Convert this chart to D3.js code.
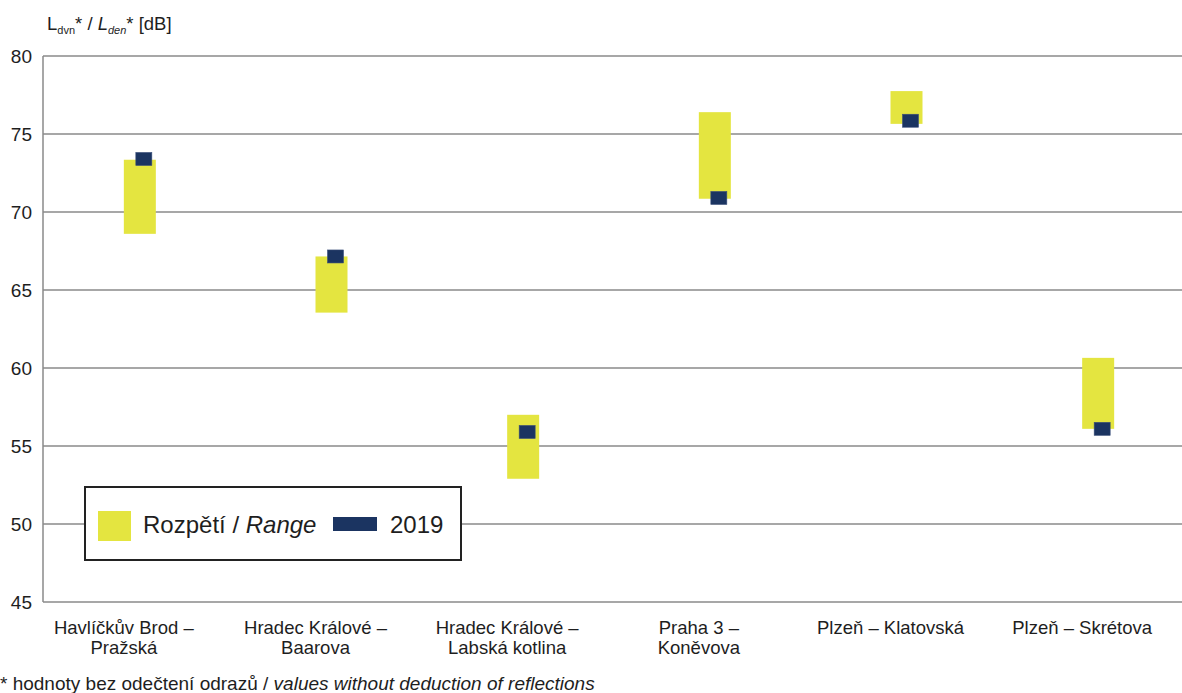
<!DOCTYPE html>
<html><head><meta charset="utf-8">
<script src="https://cdn.jsdelivr.net/npm/d3@7"></script>
<style>body{margin:0;background:#fff}svg{display:block;font-family:Arial,"Liberation Sans",sans-serif}</style>
</head><body><svg id="c" width="1182" height="693"></svg>
<script>
const categories = [["Havlíčkův Brod –","Pražská"],["Hradec Králové –","Baarova"],["Hradec Králové –","Labská kotlina"],["Praha 3 –","Koněvova"],["Plzeň – Klatovská"],["Plzeň – Skrétova"]];
const rangeLow  = [68.6, 63.55, 52.9, 70.85, 75.65, 56.1];
const rangeHigh = [73.35, 67.15, 57.0, 76.4, 77.75, 60.65];
const values2019 = [73.4, 67.15, 55.9, 70.9, 75.85, 56.1];
const yTicks = [45,50,55,60,65,70,75,80];

(function(){
const svg = d3.select("#c");
const mLeft = 43, mRight = 1194, mTop = 56, mBottom = 602;
const y = d3.scaleLinear().domain([45,80]).range([mBottom, mTop]);
const x = d3.scaleBand().domain(d3.range(categories.length)).range([mLeft+1, mRight]);
const yellow = "#e4e540", navy = "#1b3461", grid = "#8a8a8a", ink = "#1e1e1e";

svg.append("g").selectAll("line").data(yTicks).join("line")
  .attr("x1", mLeft).attr("x2", 1182).attr("y1", d=>y(d)).attr("y2", d=>y(d))
  .attr("stroke", grid).attr("stroke-width", 1.5);
svg.append("line").attr("x1", mLeft).attr("x2", mLeft).attr("y1", mTop).attr("y2", mBottom)
  .attr("stroke", grid).attr("stroke-width", 1.5);
svg.append("g").selectAll("text").data(yTicks).join("text")
  .attr("x", 32).attr("y", d=>y(d)).attr("dy","0.35em").attr("text-anchor","end")
  .attr("font-size", 19).attr("fill",ink).text(d=>d);

const bw = 32;
svg.append("g").selectAll("rect").data(categories.map((c,i)=>i)).join("rect")
  .attr("x", i=>x(i)+x.bandwidth()/2-bw/2).attr("width", bw)
  .attr("y", i=>y(rangeHigh[i])).attr("height", i=>y(rangeLow[i])-y(rangeHigh[i]))
  .attr("fill", yellow);
const mw = 16, mh = 13;
svg.append("g").selectAll("rect").data(values2019).join("rect")
  .attr("x", (d,i)=>x(i)+x.bandwidth()/2+4-mw/2).attr("width", mw)
  .attr("y", d=>y(d)-mh/2).attr("height", mh)
  .attr("fill", navy).attr("stroke","#3a4f7a").attr("stroke-width",0.6);

const xl = svg.append("g");
categories.forEach((lines,i)=>{
  const t = xl.append("text").attr("text-anchor","middle").attr("font-size",18.5).attr("fill",ink);
  lines.forEach((ln,j)=>{
    t.append("tspan").attr("x", x(i)+x.bandwidth()/2-16).attr("y", 633.5+j*20.5).text(ln);
  });
});

const at = svg.append("text").attr("x",47).attr("y",29.5).attr("font-size",18.5).attr("fill",ink);
at.append("tspan").text("L");
at.append("tspan").attr("font-size",11).attr("dy",4).text("dvn");
at.append("tspan").attr("dy",-4).text("* / ");
at.append("tspan").attr("font-style","italic").text("L");
at.append("tspan").attr("font-style","italic").attr("font-size",11).attr("dy",4).text("den");
at.append("tspan").attr("dy",-4).text("* [dB]");

const lg = svg.append("g");
lg.append("rect").attr("x",85).attr("y",487).attr("width",376).attr("height",73)
  .attr("fill","#fff").attr("stroke","#222").attr("stroke-width",2);
lg.append("rect").attr("x",98).attr("y",511).attr("width",33).attr("height",30).attr("fill",yellow);
const lt = lg.append("text").attr("x",143).attr("y",533).attr("font-size",24).attr("fill",ink);
lt.append("tspan").text("Rozpětí / ");
lt.append("tspan").attr("font-style","italic").text("Range");
lg.append("rect").attr("x",333).attr("y",517).attr("width",44).attr("height",14).attr("fill",navy);
lg.append("text").attr("x",390).attr("y",533).attr("font-size",24).attr("fill",ink).text("2019");

const fn = svg.append("text").attr("x",0).attr("y",690).attr("font-size",19).attr("fill",ink);
fn.append("tspan").text("* hodnoty bez odečtení odrazů / ");
fn.append("tspan").attr("font-style","italic").text("values without deduction of reflections");
})();
</script></body></html>
